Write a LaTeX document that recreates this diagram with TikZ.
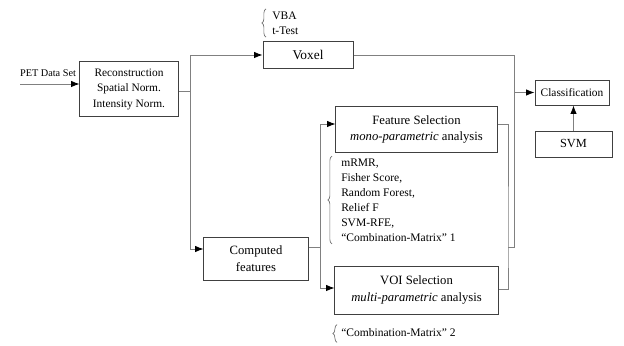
\documentclass[tikz,border=0pt]{standalone}
\usepackage{fontspec}
\setmainfont{Liberation Serif}
\usetikzlibrary{calc,arrows.meta,decorations.pathreplacing}

\tikzset{
  box/.style={draw=black!75, line width=0.7pt, inner sep=0pt, align=center},
  link/.style={draw=black!50, line width=0.6pt},
  curly/.style={draw=black!55, line width=0.5pt, decorate, decoration={brace, amplitude=3pt}},
  note/.style={anchor=west, align=left, inner sep=0pt, font=\fontsize{8.2}{10.6}\selectfont}
}

\begin{document}
\begin{tikzpicture}[x=0.025cm, y=-0.025cm, >={Latex[black, length=6pt, width=4.6pt]}]
\useasboundingbox (0,0) rectangle (624,346);

% boxes
\node [box, minimum width=2.45cm, minimum height=1.35cm, font=\fontsize{8.1}{11}\selectfont] (rec) at (129,89) {Reconstruction\\Spatial Norm.\\Intensity Norm.};
\node [box, minimum width=2.25cm, minimum height=0.65cm, font=\fontsize{9.5}{12}\selectfont] (voxel) at (308,55) {Voxel};
\node [box, minimum width=4.025cm, minimum height=1.125cm, font=\fontsize{9}{12}\selectfont] (fs) at (416.5,129.5) {Feature Selection\\\textit{mono-parametric} analysis};
\node [box, minimum width=2.6cm, minimum height=1.075cm, font=\fontsize{9}{12}\selectfont] (cf) at (256,258.5) {Computed\\features};
\node [box, minimum width=4.075cm, minimum height=1.2cm, font=\fontsize{9}{12.7}\selectfont] (voi) at (416.5,290) {VOI Selection\\\textit{multi-parametric} analysis};
\node [box, minimum width=1.85cm, minimum height=0.625cm, font=\fontsize{8.1}{10}\selectfont] (cls) at (572,92.5) {Classification};
\node [box, minimum width=1.925cm, minimum height=0.65cm, font=\fontsize{8.8}{11}\selectfont] (svm) at (573.5,144) {SVM};

% notes
\node [font=\fontsize{7.3}{9}\selectfont] (pettext) at (48,73) {PET Data Set};
\node [note] (vba) at (272,23.5) {VBA\\t-Test};
\node [note] (methods) at (341,200.5) {mRMR,\\Fisher Score,\\Random Forest,\\Relief F\\SVM-RFE,\\“Combination-Matrix” 1};
\node [note] (cm2) at (341,333) {“Combination-Matrix” 2};

\draw [curly] ($(vba.south west)+(-6,2)$) -- ($(vba.north west)+(-6,-3)$);
\draw [curly] ($(methods.south west)+(-9,2)$) -- ($(methods.north west)+(-9,-3)$);
\draw [curly] ($(cm2.south west)+(-4,5)$) -- ($(cm2.north west)+(-4,-4)$);

% connectors
\coordinate (pet) at (20,84);
\draw [link,->] (pet) -- (pet -| rec.west);

\coordinate (fork) at (190,91);
\draw [link] (rec.east |- fork) -- (fork);
\draw [link,->] (fork) |- (voxel.west);
\draw [link,->] (fork) |- ($(cf.west)+(0,-9.5)$);

\coordinate (fork2) at (320,247);
\draw [link] (cf.east |- fork2) -- (fork2);
\draw [link,->] (fork2) |- ($(fs.west)+(0,-5.5)$);
\draw [link,->] (fork2) |- ($(voi.west)+(0,-2)$);

\coordinate (join) at (508,247);
\coordinate (join2) at (514,247);
\draw [link] ($(fs.east)+(0,-5.5)$) -| (join) |- ($(voi.east)+(0,-1)$);
\draw [link] (voxel.east) -| (join2) -- (join);
\draw [link,->] (join2 |- cls.west) -- (cls.west);
\draw [link,->] (svm.north) -- (svm.north |- cls.south);

\end{tikzpicture}
\end{document}
